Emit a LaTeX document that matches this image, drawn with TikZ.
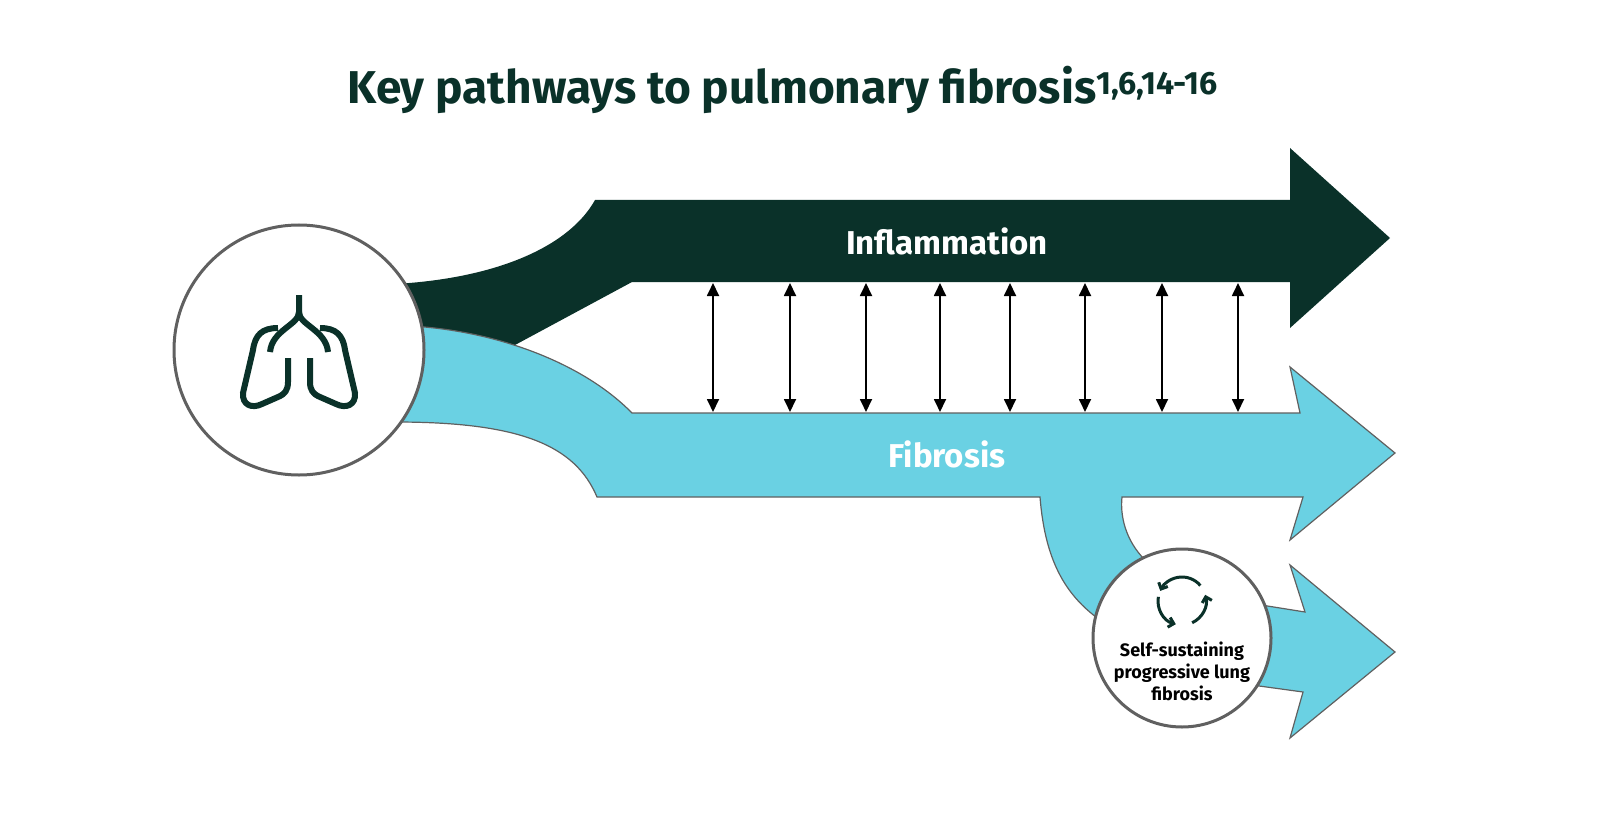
\documentclass[tikz,border=0pt]{standalone}
\usepackage{fontspec}
\setmainfont{Fira Sans}
\usetikzlibrary{arrows.meta}
\definecolor{dk}{HTML}{0A3129}
\definecolor{cy}{HTML}{6AD1E3}
\definecolor{gr}{HTML}{606060}
\tikzset{
  band/.style={fill=cy,draw=gr,line width=1.2pt},
  ring/.style={fill=white,draw=gr,line width=3pt},
  link/.style={{Triangle[length=13pt,width=12pt]}-{Triangle[length=13pt,width=12pt]},line width=1.8pt,black},
  icon/.style={draw=dk,line width=6pt,line cap=butt},
  cyc/.style={draw=dk,line width=3pt,-{Straight Barb[length=5pt,width=10pt]}}
}
\begin{document}
\begin{tikzpicture}[x=1pt,y=-1pt]
\useasboundingbox (0,0) rectangle (1611,821);
\node[text=dk,font=\fontsize{46}{52}\selectfont\bfseries] (title) at (783,90) {Key pathways to pulmonary fibrosis\textsuperscript{1,6,14-16}};
% lower cyan arrow
\path[band] (1230,600) -- (1305,612) -- (1290,565) -- (1395,652) -- (1290,738) -- (1303,692) -- (1230,682) -- cycle;
% dark arrow
\path[fill=dk] (395,284) .. controls (500,278) and (570,245) .. (595,200) -- (1305,200) -- (1290,200) -- (1290,148) -- (1390,238) -- (1290,328) -- (1290,282) -- (632,282) -- (515,345) -- (410,330) -- cycle;
% cyan main arrow with branch
\path[band] (395,422) .. controls (520,422) and (575,445) .. (597,497) -- (1040,497) .. controls (1045,560) and (1065,595) .. (1100,620) -- (1145,560) .. controls (1125,540) and (1120,515) .. (1122,497) -- (1303,497) -- (1290,540) -- (1395,453) -- (1290,367) -- (1300,413) -- (632,413) .. controls (580,360) and (490,330) .. (410,326) -- cycle;
% links
\foreach \x [count=\i] in {713,790,866,940,1010,1085,1162,1238}{
  \coordinate (t\i) at (\x,283); \coordinate (b\i) at (\x,412);
  \draw[link] (t\i) -- (b\i);}
\node[text=white,font=\fontsize{33}{36}\selectfont\bfseries] (infl) at (947,241) {Inflammation};
\node[text=white,font=\fontsize{33}{36}\selectfont\bfseries] (fib) at (947,454) {Fibrosis};
% big circle
\node[ring,circle,minimum size=250pt,inner sep=0] (lung) at (299,350) {};
\draw[icon] (299,295) -- (299,312) .. controls (299,325) and (272,330) .. (270,352);
\draw[icon] (299,312) .. controls (299,325) and (326,330) .. (328,352);
\draw[icon] (278,328) .. controls (262,328) and (255,335) .. (253,350) -- (243,393) .. controls (242,405) and (252,409) .. (262,404) -- (278,397) .. controls (285,394) and (288,390) .. (288,382) -- (288,358);
\draw[icon] (320,328) .. controls (336,328) and (343,335) .. (345,350) -- (355,393) .. controls (356,405) and (346,409) .. (336,404) -- (320,397) .. controls (313,394) and (310,390) .. (310,382) -- (310,358);
% small circle
\node[ring,circle,minimum size=178pt,inner sep=0] (self) at (1182,638) {};
\coordinate (cc) at (1182,601);
\draw[cyc] ([shift={(-40:24)}]cc) arc[start angle=-40,end angle=-155,radius=24];
\draw[cyc] ([shift={(190:24)}]cc) arc[start angle=190,end angle=105,radius=24];
\draw[cyc] ([shift={(65:24)}]cc) arc[start angle=65,end angle=-15,radius=24];
\node[align=center,font=\fontsize{18}{22}\selectfont\bfseries,text=black] (selftxt) at (1182,671) {Self-sustaining\\progressive lung\\fibrosis};
\end{tikzpicture}
\end{document}
